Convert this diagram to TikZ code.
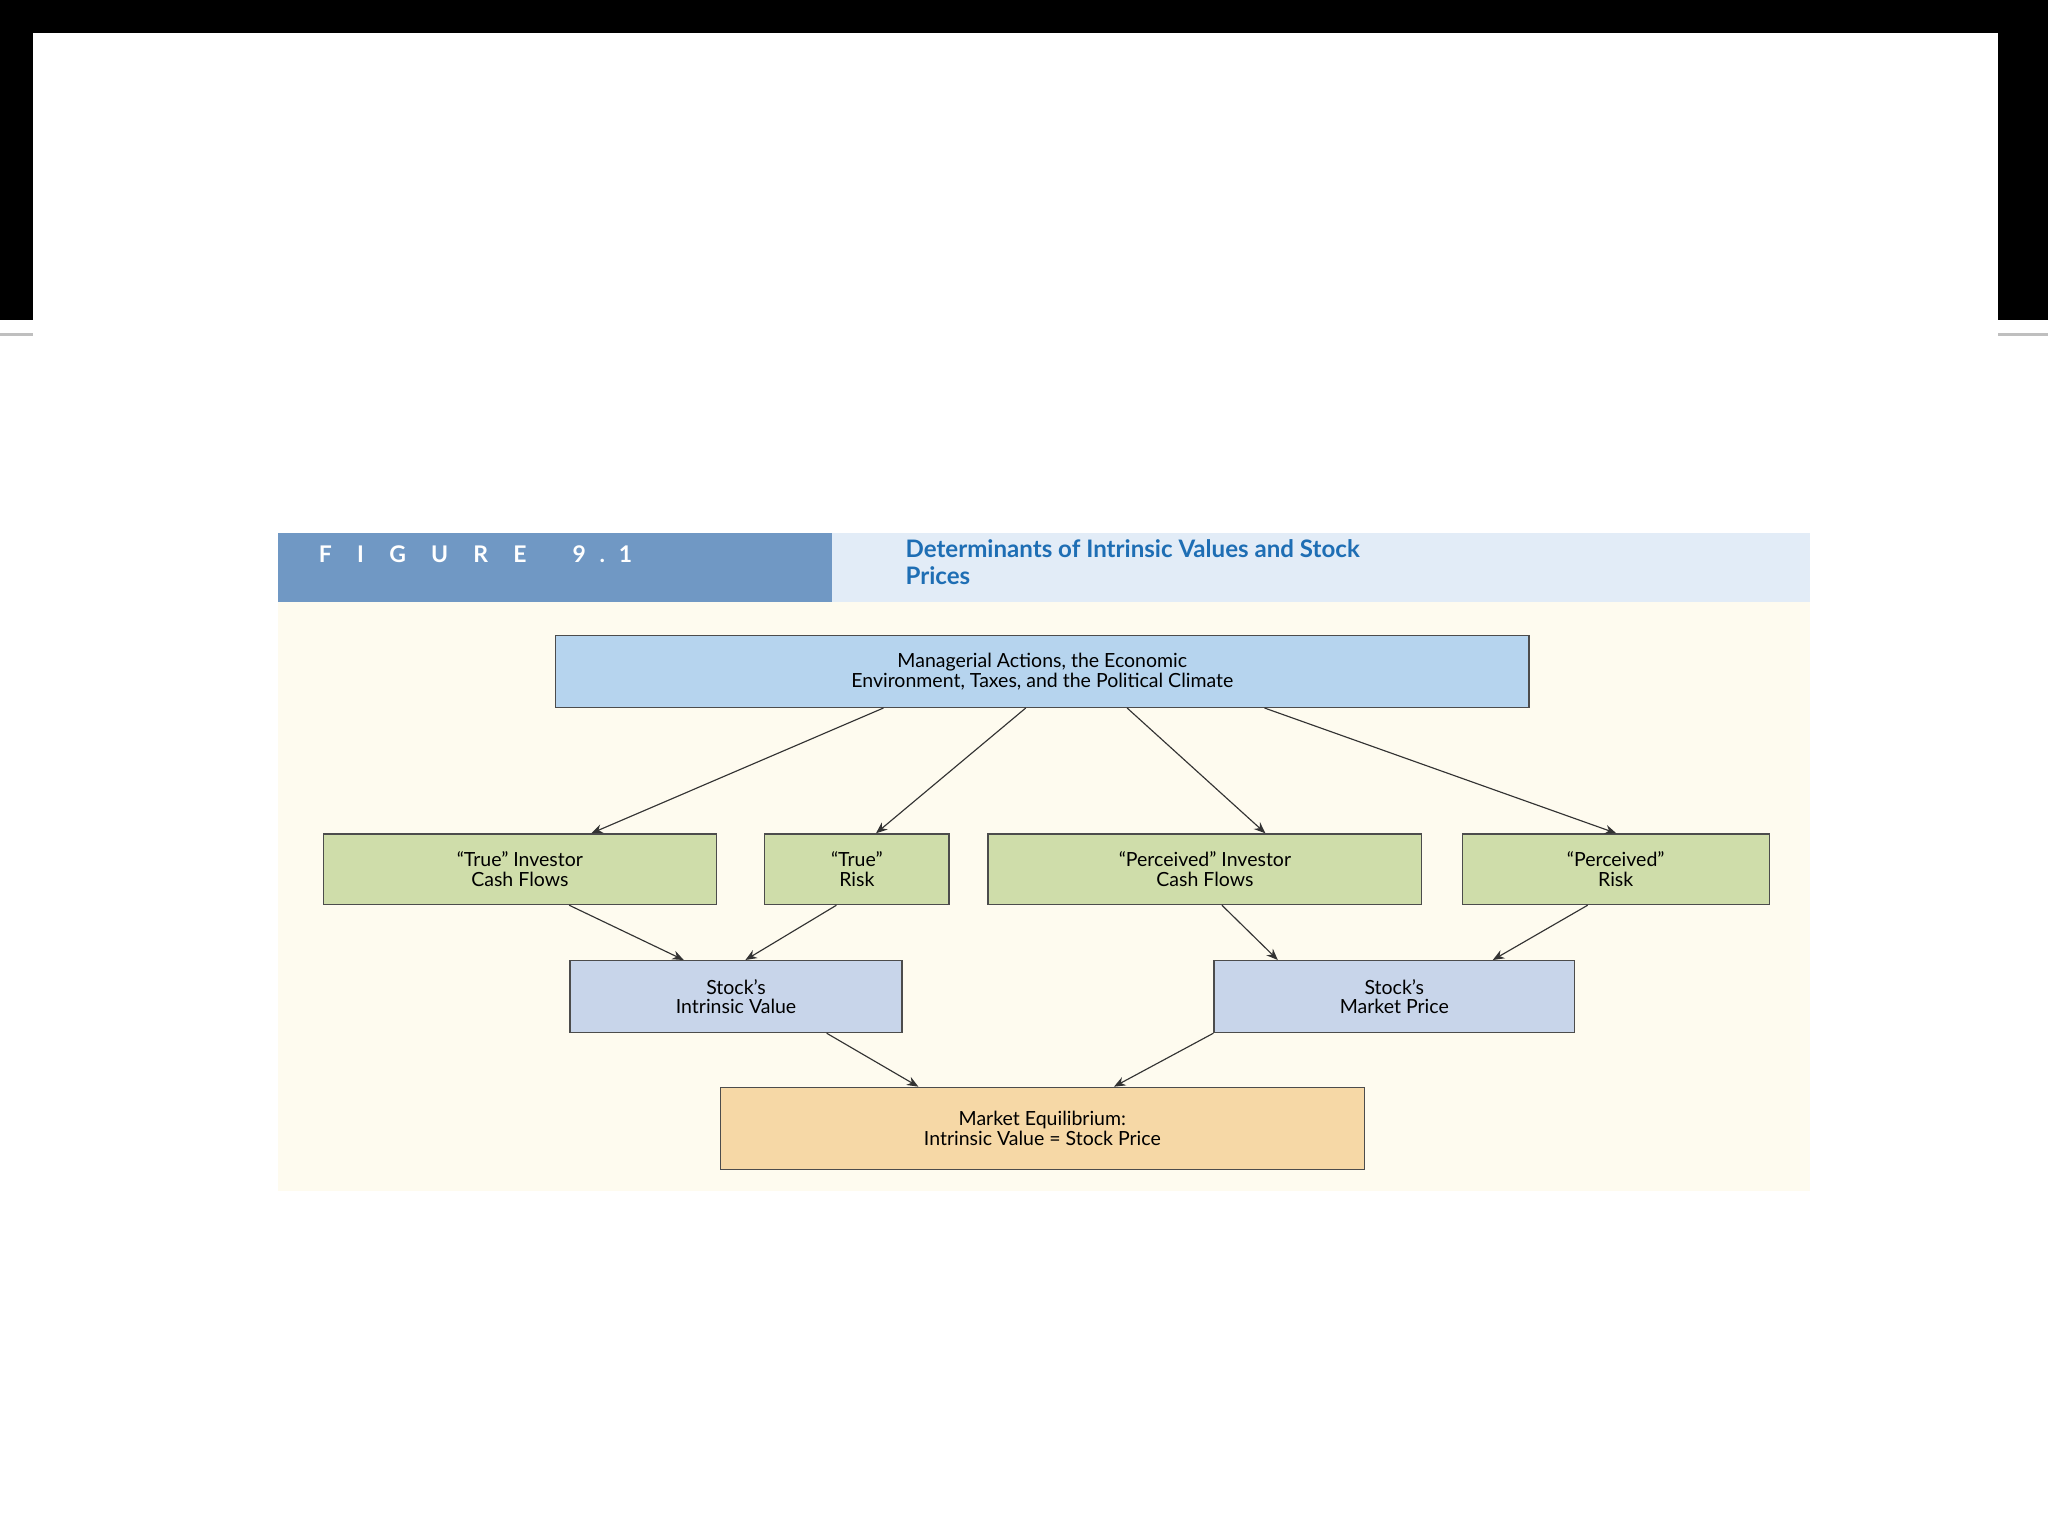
\documentclass[tikz,border=0pt]{standalone}
\usepackage{fontspec}
\setmainfont{Lato}
\usetikzlibrary{calc,arrows.meta}
\definecolor{topc}{RGB}{182,212,238}
\definecolor{grn}{RGB}{207,221,170}
\definecolor{bgr}{RGB}{200,213,234}
\definecolor{org}{RGB}{246,216,166}
\definecolor{cream}{RGB}{254,251,239}
\definecolor{hdr}{RGB}{112,152,196}
\definecolor{hdrl}{RGB}{226,236,247}
\definecolor{ttl}{RGB}{30,110,180}
\tikzset{
 bx/.style={draw=black!70,line width=0.6pt,anchor=north west,inner sep=0pt,align=center,font=\fontsize{8.5}{8.5}\selectfont},
 ar/.style={-{Stealth[length=5pt,width=4pt]},line width=0.5pt,black!80}
}
\begin{document}
\begin{tikzpicture}[x=0.02cm,y=-0.02cm]
\useasboundingbox (0,0) rectangle (1568,1176);
\fill[white] (0,0) rectangle (1568,1176);
\fill[black] (0,0) rectangle (1568,25);
\fill[black] (0,0) rectangle (25,245);
\fill[black] (1530,0) rectangle (1568,245);
\draw[gray!50,line width=1pt] (0,256) -- (25,256) (1530,256) -- (1568,256);
\fill[cream] (213,461) rectangle (1386,912);
\fill[hdr] (213,408) rectangle (637,461);
\fill[hdrl] (637,408) rectangle (1386,461);
\node[anchor=west,text=white,font=\bfseries\fontsize{10}{10}\selectfont] (fig) at (238,424) {F\hspace{1.1em}I\hspace{1.1em}G\hspace{1.1em}U\hspace{1.1em}R\hspace{1.1em}E\hspace{2em}9\hspace{0.6em}.\hspace{0.6em}1};
\node[anchor=north west,text=ttl,align=left,inner sep=0pt,font=\bfseries\fontsize{10.5}{11.5}\selectfont] (title) at (693,413) {Determinants of Intrinsic Values and Stock\\Prices};
\node[bx,fill=topc,minimum width=745*0.02cm,minimum height=55*0.02cm] (top) at (425,486) {Managerial Actions, the Economic\\Environment, Taxes, and the Political Climate};
\node[bx,fill=grn,minimum width=301*0.02cm,minimum height=54*0.02cm] (g1) at (247,638) {“True” Investor\\Cash Flows};
\node[bx,fill=grn,minimum width=141*0.02cm,minimum height=54*0.02cm] (g2) at (585,638) {“True”\\Risk};
\node[bx,fill=grn,minimum width=332*0.02cm,minimum height=54*0.02cm] (g3) at (756,638) {“Perceived” Investor\\Cash Flows};
\node[bx,fill=grn,minimum width=235*0.02cm,minimum height=54*0.02cm] (g4) at (1119,638) {“Perceived”\\Risk};
\node[bx,fill=bgr,minimum width=254*0.02cm,minimum height=55*0.02cm] (b1) at (436,735) {Stock’s\\Intrinsic Value};
\node[bx,fill=bgr,minimum width=276*0.02cm,minimum height=55*0.02cm] (b2) at (929,735) {Stock’s\\Market Price};
\node[bx,fill=org,minimum width=493*0.02cm,minimum height=63*0.02cm] (o) at (551,832) {Market Equilibrium:\\Intrinsic Value = Stock Price};
\newcommand{\sx}[2]{($(#1.south west)!#2!(#1.south east)$)}
\newcommand{\nx}[2]{($(#1.north west)!#2!(#1.north east)$)}
\draw[ar] \sx{top}{0.337} -- \nx{g1}{0.681};
\draw[ar] \sx{top}{0.483} -- \nx{g2}{0.603};
\draw[ar] \sx{top}{0.587} -- \nx{g3}{0.639};
\draw[ar] \sx{top}{0.728} -- \nx{g4}{0.502};
\draw[ar] \sx{g1}{0.625} -- \nx{b1}{0.343};
\draw[ar] \sx{g2}{0.39} -- \nx{b1}{0.528};
\draw[ar] \sx{g3}{0.539} -- \nx{b2}{0.178};
\draw[ar] \sx{g4}{0.409} -- \nx{b2}{0.772};
\draw[ar] \sx{b1}{0.772} -- \nx{o}{0.308};
\draw[ar] (b2.south west) -- \nx{o}{0.611};
\end{tikzpicture}
\end{document}
